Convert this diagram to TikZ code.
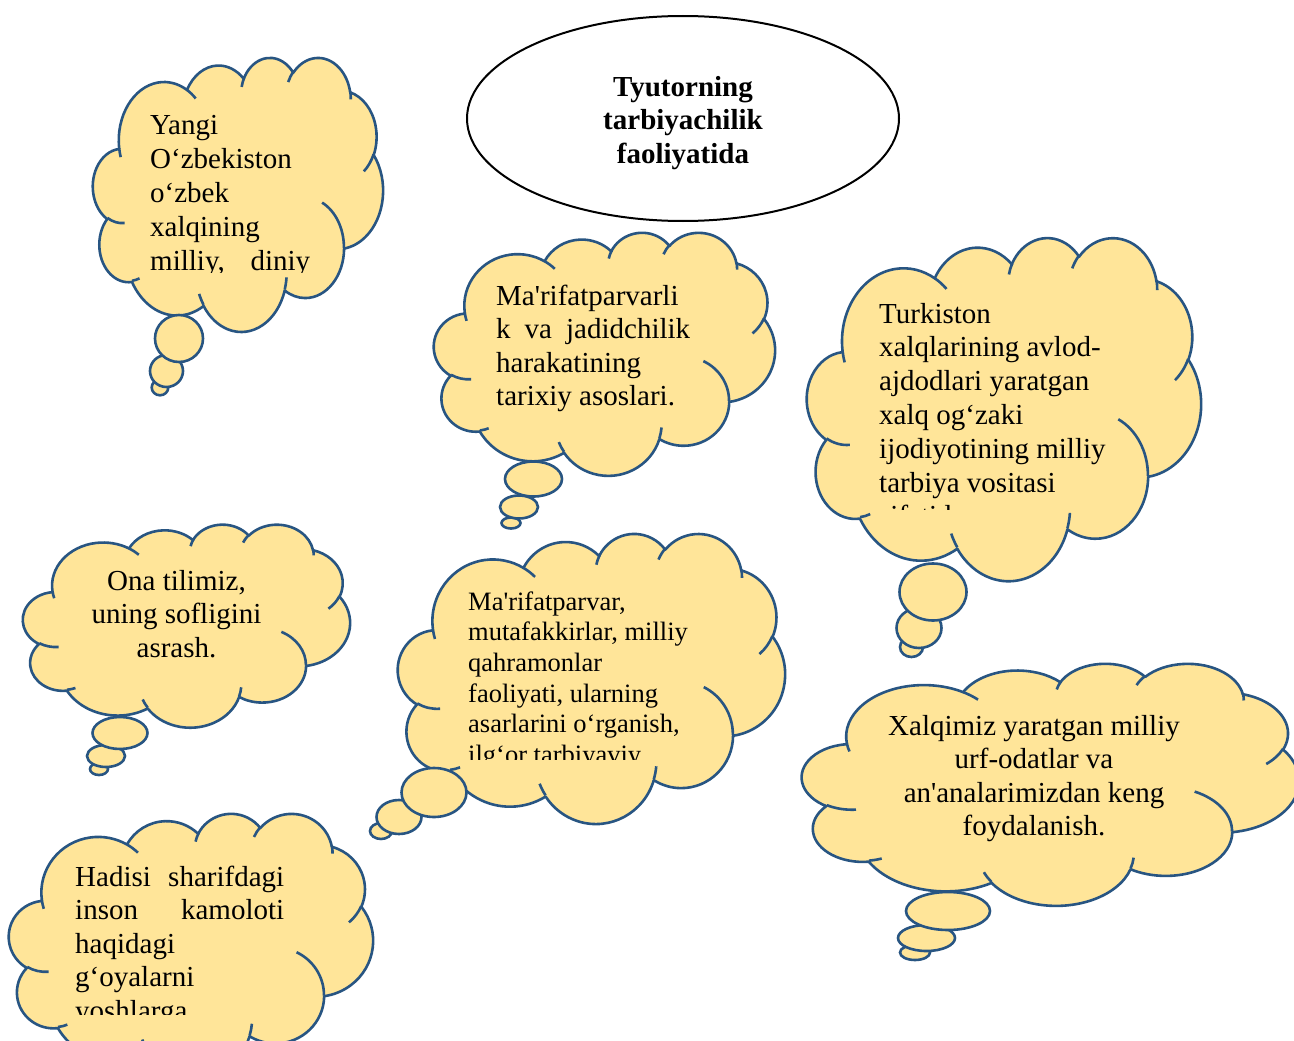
\documentclass[tikz,border=0pt]{standalone}
\usepackage{fontspec}
\usetikzlibrary{shapes.geometric}
\newfontfamily\libser{Liberation Serif}
\definecolor{cloudfill}{RGB}{255,229,153}
\definecolor{cloudline}{RGB}{40,85,130}
% convert an OOXML (visual) arc into a TikZ (parametric) arc
\newcommand\prepArc[5]{%
  \pgfmathsetmacro\tmpA{atan2((#2)*sin(#4),(#3)*cos(#4))}%
  \pgfmathsetmacro\tmpB{atan2((#2)*sin((#4)+(#5)),(#3)*cos((#4)+(#5)))}%
  \pgfmathsetmacro\tmpD{\tmpB-\tmpA}%
  \pgfmathsetmacro\tmpD{ifthenelse(\tmpD<0,\tmpD+360,\tmpD)}%
  \expandafter\xdef\csname #1S\endcsname{\tmpA}%
  \expandafter\xdef\csname #1D\endcsname{\tmpD}%
}
\prepArc{OA}{67.53}{91.90}{-190.4875}{123.7805}
\prepArc{OB}{53.33}{72.67}{-144.1024}{89.9452}
\prepArc{OC}{43.65}{59.45}{-145.8079}{99.7230}
\prepArc{OD}{48.57}{65.95}{-130.9861}{117.2417}
\prepArc{OE}{53.33}{72.73}{-78.7089}{109.0269}
\prepArc{OF}{67.75}{92.20}{-46.2673}{130.2690}
\prepArc{OG}{57.85}{78.67}{0.6250}{114.0333}
\prepArc{OH}{67.52}{92.15}{22.4516}{115.1726}
\prepArc{OI}{77.20}{105.43}{66.2426}{75.7110}
\prepArc{OJ}{43.60}{59.18}{-274.9421}{146.7356}
\prepArc{OK}{43.45}{59.45}{-246.8285}{152.5189}
\prepArc{IA}{43.45}{59.45}{86.7420}{26.4295}
\prepArc{IB}{43.60}{59.18}{73.6105}{11.4475}
\prepArc{IC}{67.52}{92.15}{137.6242}{14.0811}
\prepArc{ID}{67.52}{92.15}{6.4533}{15.9984}
\prepArc{IE}{57.85}{78.67}{-70.2924}{70.9174}
\prepArc{IF}{53.33}{72.73}{30.3180}{27.7515}
\prepArc{IG}{48.57}{65.95}{-13.7443}{14.8589}
\prepArc{IH}{48.57}{65.95}{-149.1815}{18.1954}
\prepArc{II}{43.65}{59.45}{-163.4943}{17.6864}
\prepArc{IJ}{67.53}{91.90}{-66.7070}{12.3194}
\prepArc{IK}{67.53}{91.90}{157.6544}{11.8582}
\tikzset{
  cloudbody/.style={fill=cloudfill, draw=cloudline, line width=2.6pt, line join=round},
  cloudarcs/.style={draw=cloudline, line width=2.6pt},
  bubble/.style={fill=cloudfill, draw=cloudline, line width=2.6pt},
  txt/.style={inner sep=0pt, font=\libser},
}
% #1 left, #2 top, #3 width, #4 height (pixels)
\newcommand\cloudshape[4]{%
\begin{scope}[shift={(#1,#2)},x={(#3/432*1pt,0pt)},y={(0pt,-#4/432*1pt)}]
\path[cloudbody] (39.00,143.70)
 arc[start angle=\OAS,delta angle=\OAD,x radius=67.53,y radius=91.90]
 arc[start angle=\OBS,delta angle=\OBD,x radius=53.33,y radius=72.67]
 arc[start angle=\OCS,delta angle=\OCD,x radius=43.65,y radius=59.45]
 arc[start angle=\ODS,delta angle=\ODD,x radius=48.57,y radius=65.95]
 arc[start angle=\OES,delta angle=\OED,x radius=53.33,y radius=72.73]
 arc[start angle=\OFS,delta angle=\OFD,x radius=67.75,y radius=92.20]
 arc[start angle=\OGS,delta angle=\OGD,x radius=57.85,y radius=78.67]
 arc[start angle=\OHS,delta angle=\OHD,x radius=67.52,y radius=92.15]
 arc[start angle=\OIS,delta angle=\OID,x radius=77.20,y radius=105.43]
 arc[start angle=\OJS,delta angle=\OJD,x radius=43.60,y radius=59.18]
 arc[start angle=\OKS,delta angle=\OKD,x radius=43.45,y radius=59.45]
 -- cycle;
\path[cloudarcs]
 (46.93,261.77) arc[start angle=\IAS,delta angle=\IAD,x radius=43.45,y radius=59.45]
 (69.28,348.99) arc[start angle=\IBS,delta angle=\IBD,x radius=43.60,y radius=59.18]
 (164.78,390.90) arc[start angle=\ICS,delta angle=\ICD,x radius=67.52,y radius=92.15]
 (288.27,347.51) arc[start angle=\IDS,delta angle=\IDD,x radius=67.52,y radius=92.15]
 (341.29,229.54) arc[start angle=\IES,delta angle=\IED,x radius=57.85,y radius=78.67]
 (417.98,153.54) arc[start angle=\IFS,delta angle=\IFD,x radius=53.33,y radius=72.73]
 (383.24,54.26) arc[start angle=\IGS,delta angle=\IGD,x radius=48.57,y radius=65.95]
 (290.78,39.52) arc[start angle=\IHS,delta angle=\IHD,x radius=48.57,y radius=65.95]
 (221.41,47.20) arc[start angle=\IIS,delta angle=\IID,x radius=43.65,y radius=59.45]
 (140.00,51.92) arc[start angle=\IJS,delta angle=\IJD,x radius=67.53,y radius=91.90]
 (41.27,157.89) arc[start angle=\IKS,delta angle=\IKD,x radius=67.53,y radius=91.90];
\end{scope}}
\newcommand\tailbubbles[3]{% small, mid, big : {cx,cy,rx,ry}
  \foreach \cx/\cy/\rx/\ry in {#1,#2,#3}
    \path[bubble] (\cx,\cy) ellipse[x radius=\rx, y radius=\ry];}
\begin{document}
\begin{tikzpicture}[x=1pt,y=-1pt]
\useasboundingbox (0,0) rectangle (1294,1041);
\fill[white] (0,0) rectangle (1294,1041);

% title ellipse
\node[draw=black, line width=2pt, ellipse, minimum width=432pt, minimum height=205pt, inner sep=0pt] (title) at (683,118.5) {};
\node[txt, anchor=base] (titletext) at (683,96)
  {\parbox[t]{300pt}{\centering\bfseries\fontsize{29}{33.5}\selectfont Tyutorning\\ tarbiyachilik\\ faoliyatida}};

% cloud 1
\cloudshape{93}{57}{290}{274}
\tailbubbles{160/387.5/8.3/7.8}{166.5/371/16.5/16}{179/338.5/24/23.5}
\begin{scope}
\clip (140,95) rectangle (335,272.5);
\node[txt, anchor=base west] (t1) at (150,135)
  {\parbox[t]{170pt}{\fontsize{29}{34}\selectfont Yangi\\ O‘zbekiston\\ o‘zbek\\ xalqining\\ \hbox to 160pt{milliy,\hfill diniy}}};
\end{scope}

% cloud 2
\cloudshape{434}{232}{341}{243}
\tailbubbles{511/523/9.5/5.5}{519/507/19/11.5}{533.5/479/28.5/17.5}
\node[txt, anchor=base west] (t2) at (496,305)
  {\parbox[t]{200pt}{\fontsize{29}{33.5}\selectfont Ma'rifatparvarli\\ \hbox to 194pt{k\hfill va\hfill jadidchilik}\\ harakatining\\ tarixiy asoslari.}};

% cloud 3
\cloudshape{807}{237}{394}{343}
\tailbubbles{911.5/647/11.5/10}{919/628/22.5/20}{933/592/33.5/28.5}
\begin{scope}
\clip (860,280) rectangle (1140,509.5);
\node[txt, anchor=base west] (t3) at (879,323)
  {\parbox[t]{260pt}{\fontsize{29}{33.8}\selectfont Turkiston\\ xalqlarining avlod-\\ ajdodlari yaratgan\\ xalq og‘zaki\\ ijodiyotining milliy\\ tarbiya vositasi\\ sifatida.}};
\end{scope}

% cloud 4
\cloudshape{23}{524}{327}{203}
\tailbubbles{99/769/9/6}{106/756/19/11}{120/733/27.5/16}
\node[txt, anchor=base] (t4) at (176.5,590)
  {\parbox[t]{300pt}{\centering\fontsize{29}{33.5}\selectfont Ona tilimiz,\\ uning sofligini\\ asrash.}};

% cloud 5
\cloudshape{398}{533}{387}{290}
\tailbubbles{381/831/11/8}{399/817/22.5/17}{434/792.5/32.5/24.5}
\begin{scope}
\clip (455,570) rectangle (730,759);
\node[txt, anchor=base west] (t5) at (468,610)
  {\parbox[t]{260pt}{\fontsize{26.5}{30.7}\selectfont Ma'rifatparvar,\\ mutafakkirlar, milliy\\ qahramonlar\\ faoliyati, ularning\\ asarlarini o‘rganish,\\ ilg‘or tarbiyaviy}};
\end{scope}

% cloud 6
\cloudshape{9}{813}{364}{262}
\begin{scope}
\clip (60,845) rectangle (300,1014);
\node[txt, anchor=base west] (t6) at (75,886)
  {\parbox[t]{220pt}{\fontsize{29}{33.6}\selectfont\leavevmode\hbox to 209pt{Hadisi\hfill sharifdagi}\\ \hbox to 209pt{inson\hfill kamoloti}\\ haqidagi\\ g‘oyalarni\\ yoshlarga}};
\end{scope}

% cloud 7
\cloudshape{802}{663}{497}{242}
\tailbubbles{915/952.5/15/7.5}{926.5/938/28.5/13}{948/911/42/19}
\node[txt, anchor=base] (t7) at (1034,735)
  {\parbox[t]{380pt}{\centering\fontsize{29}{33.5}\selectfont Xalqimiz yaratgan milliy\\ urf-odatlar va\\ an'analarimizdan keng\\ foydalanish.}};
\end{tikzpicture}
\end{document}
